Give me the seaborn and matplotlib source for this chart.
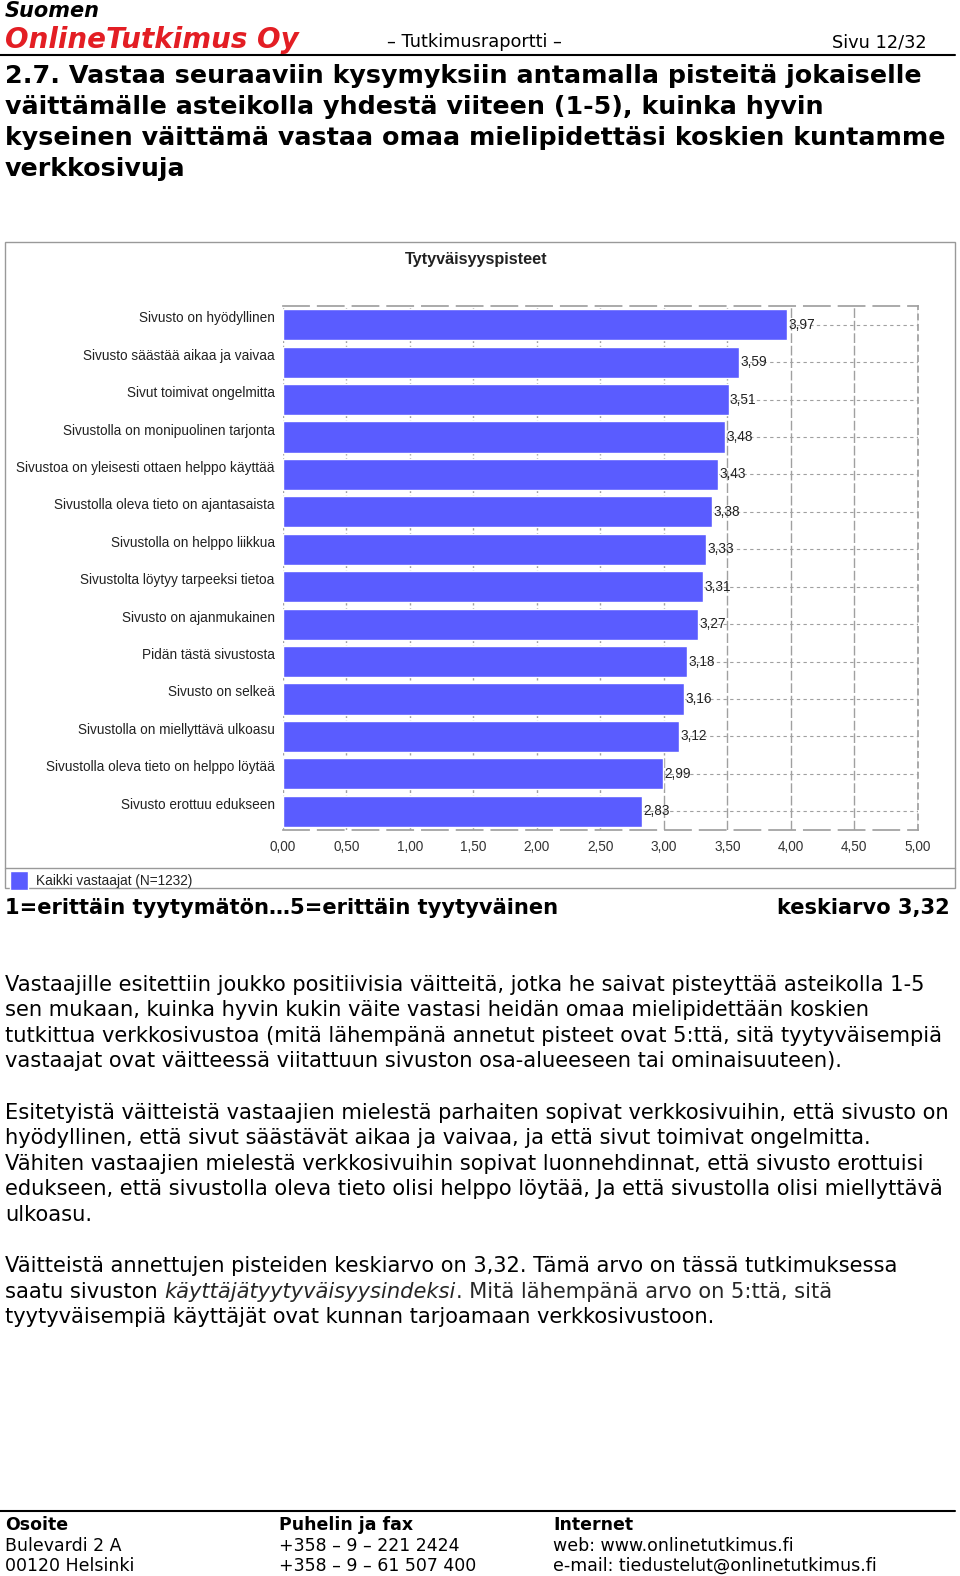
import numpy as np
import matplotlib.pyplot as plt
import seaborn as sns
from matplotlib.lines import Line2D
from matplotlib.transforms import ScaledTranslation

# Chart data
labels = ["Sivusto on hyödyllinen", "Sivusto säästää aikaa ja vaivaa", "Sivut toimivat ongelmitta",
          "Sivustolla on monipuolinen tarjonta", "Sivustoa on yleisesti ottaen helppo käyttää",
          "Sivustolla oleva tieto on ajantasaista", "Sivustolla on helppo liikkua",
          "Sivustolta löytyy tarpeeksi tietoa", "Sivusto on ajanmukainen", "Pidän tästä sivustosta",
          "Sivusto on selkeä", "Sivustolla on miellyttävä ulkoasu",
          "Sivustolla oleva tieto on helppo löytää", "Sivusto erottuu edukseen"]
scores = [3.97, 3.59, 3.51, 3.48, 3.43, 3.38, 3.33, 3.31, 3.27, 3.18, 3.16, 3.12, 2.99, 2.83]
xticks = [0, 0.5, 1, 1.5, 2, 2.5, 3, 3.5, 4, 4.5, 5]
series_label = "Kaikki vastaajat (N=1232)"

heading = ["2.7. Vastaa seuraaviin kysymyksiin antamalla pisteitä jokaiselle",
           "väittämälle asteikolla yhdestä viiteen (1-5), kuinka hyvin",
           "kyseinen väittämä vastaa omaa mielipidettäsi koskien kuntamme",
           "verkkosivuja"]
para1 = ["Vastaajille esitettiin joukko positiivisia väitteitä, jotka he saivat pisteyttää asteikolla 1-5",
         "sen mukaan, kuinka hyvin kukin väite vastasi heidän omaa mielipidettään koskien",
         "tutkittua verkkosivustoa (mitä lähempänä annetut pisteet ovat 5:ttä, sitä tyytyväisempiä",
         "vastaajat ovat väitteessä viitattuun sivuston osa-alueeseen tai ominaisuuteen)."]
para2 = ["Esitetyistä väitteistä vastaajien mielestä parhaiten sopivat verkkosivuihin, että sivusto on",
         "hyödyllinen, että sivut säästävät aikaa ja vaivaa, ja että sivut toimivat ongelmitta.",
         "Vähiten vastaajien mielestä verkkosivuihin sopivat luonnehdinnat, että sivusto erottuisi",
         "edukseen, että sivustolla oleva tieto olisi helppo löytää, Ja että sivustolla olisi miellyttävä",
         "ulkoasu."]
para3_first = "Väitteistä annettujen pisteiden keskiarvo on 3,32. Tämä arvo on tässä tutkimuksessa"
para3_mid = ["saatu sivuston ", "käyttäjätyytyväisyysindeksi", ". Mitä lähempänä arvo on 5:ttä, sitä"]
para3_last = "tyytyväisempiä käyttäjät ovat kunnan tarjoamaan verkkosivustoon."

sns.set_theme(style="white")
plt.rcParams['font.family'] = ['DejaVu Sans']

W, H = 960, 1576
fig = plt.figure(figsize=(W / 100, H / 100), dpi=100)
page = fig.add_axes([0, 0, 1, 1])
page.set_xlim(0, W)
page.set_ylim(H, 0)
page.axis('off')

BODY = 15.1
CHART_FS = 9.8


def put(x, y, s, **kw):
    kw.setdefault('va', 'center')
    return page.text(x, y, s, color=kw.pop('color', 'black'), **kw)


# Page header
put(5, 11, "Suomen", fontsize=15, fontweight='bold', style='italic')
put(5, 40, "OnlineTutkimus Oy", fontsize=20, fontweight='bold', style='italic', color='#e31e24')
put(387, 42, "– Tutkimusraportti –", fontsize=12.8)
put(927, 42, "Sivu 12/32", fontsize=12.8, ha='right')
page.add_line(Line2D([0, 955], [55, 55], color='black', lw=1.5))

# Heading
for i, line in enumerate(heading):
    put(5, 76 + i * 31, line, fontsize=18.3, fontweight='bold')

# Chart frame
page.add_patch(plt.Rectangle((5, 242), 950, 646, fill=False, ec='#999999', lw=1))
page.add_line(Line2D([5, 955], [868, 868], color='#999999', lw=1))
put(476, 259, "Tytyväisyyspisteet", fontsize=11.7, fontweight='bold', family='Liberation Sans',
    color='#222222', ha='center')

# Bar chart
ax = fig.add_axes([283 / W, 1 - 830 / H, (917.7 - 283) / W, (830 - 306) / H])
sns.barplot(x=scores, y=labels, orient='h', color='#5a5cff', width=0.83, saturation=1,
            label=series_label, ax=ax)
if ax.get_legend() is not None:
    ax.get_legend().remove()
ax.set_xlim(0, 5)
ax.set_ylim(len(labels) - 0.5, -0.5)
ax.set_xticks(xticks)
ax.set_xticklabels([f"{t:.2f}".replace('.', ',') for t in xticks], family='Liberation Sans',
                   fontsize=CHART_FS, color='#333333')
ax.set_yticklabels(labels, family='Liberation Sans', fontsize=CHART_FS, color='#222222')
ax.tick_params(axis='y', length=0, pad=6)
ax.tick_params(axis='x', length=0, pad=7)
# category labels sit a little above the bar centres, as in the original
shift = ScaledTranslation(0, 8 / 100, fig.dpi_scale_trans)
for lab in ax.get_yticklabels():
    lab.set_transform(lab.get_transform() + shift)
ax.set_xlabel('')
ax.set_ylabel('')
ax.set_axisbelow(True)
ax.grid(axis='x', color='#a0a0a0', lw=1, linestyle=(0, (7, 2)))
ax.grid(axis='y', color='#a0a0a0', lw=0.8, linestyle=(0, (3, 3)))
ax.spines['left'].set_visible(False)
for side in ['top', 'bottom']:
    ax.spines[side].set_color('#a0a0a0')
    ax.spines[side].set_linestyle((0, (15, 5)))
ax.spines['right'].set_color('#a0a0a0')
ax.spines['right'].set_linestyle((0, (3, 3)))
ax.bar_label(ax.containers[0], labels=[f"{v:.2f}".replace('.', ',') for v in scores],
             padding=1, fontsize=CHART_FS, family='Liberation Sans', color='#222222')

handles, names = ax.get_legend_handles_labels()
fig.legend(handles, names, loc='upper left', bbox_to_anchor=(10 / W, 1 - 871 / H),
           frameon=False, prop={'family': 'Liberation Sans', 'size': CHART_FS},
           handlelength=1.32, handleheight=1.8, handletextpad=0.6, borderaxespad=0,
           borderpad=0, labelcolor='#222222')

# Scale caption
put(5, 908, "1=erittäin tyytymätön…5=erittäin tyytyväinen", fontsize=15.1, fontweight='bold')
put(950, 908, "keskiarvo 3,32", fontsize=15.1, fontweight='bold', ha='right')

# Body text
for i, line in enumerate(para1):
    put(5, 985 + i * 25.4, line, fontsize=BODY)
for i, line in enumerate(para2):
    put(5, 1113 + i * 25.4, line, fontsize=BODY)
put(5, 1266, para3_first, fontsize=BODY)
t1 = put(5, 1292, para3_mid[0], fontsize=BODY)
t2 = page.annotate(para3_mid[1], xy=(1, 0), xycoords=t1, va='bottom', ha='left',
                   fontsize=BODY, style='italic')
page.annotate(para3_mid[2], xy=(1, 0), xycoords=t2, va='bottom', ha='left', fontsize=BODY)
put(5, 1317, para3_last, fontsize=BODY)

# Footer
page.add_line(Line2D([0, 955], [1511, 1511], color='black', lw=1.5))
footer = [("Osoite", "Bulevardi 2 A", "00120 Helsinki"),
          ("Puhelin ja fax", "+358 – 9 – 221 2424", "+358 – 9 – 61 507 400"),
          ("Internet", "web: www.onlinetutkimus.fi", "e-mail: tiedustelut@onlinetutkimus.fi")]
for x, col in zip([5, 279, 553], footer):
    put(x, 1525, col[0], fontsize=12.5, fontweight='bold')
    put(x, 1546, col[1], fontsize=12.5)
    put(x, 1566, col[2], fontsize=12.5)

fig.savefig("out.png", dpi=100)
